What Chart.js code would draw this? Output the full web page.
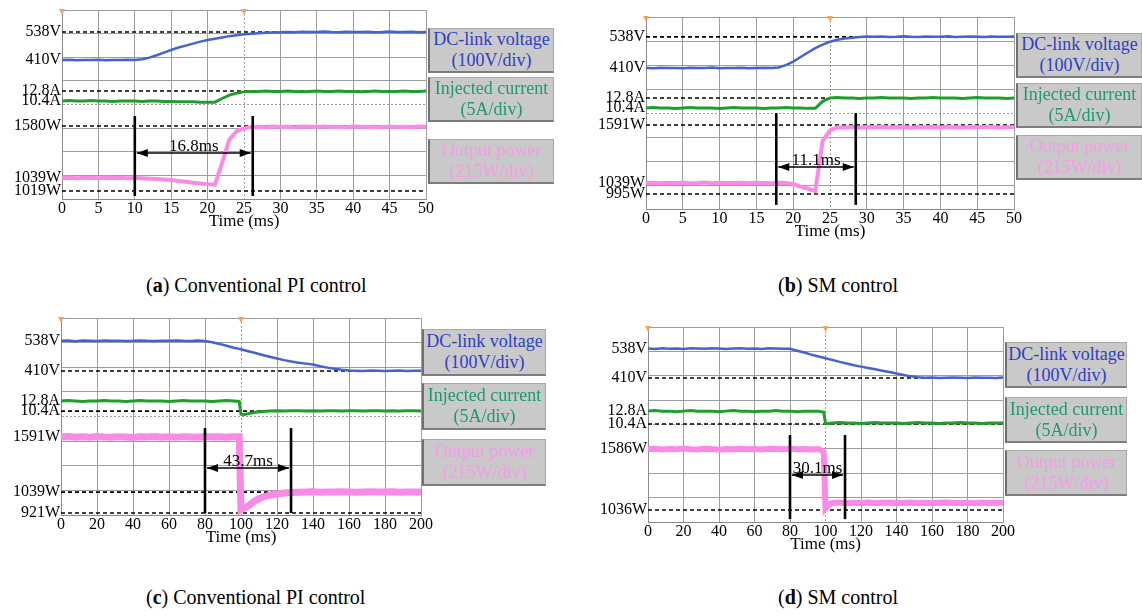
<!DOCTYPE html>
<html>
<head>
<meta charset="utf-8">
<script src="https://cdn.jsdelivr.net/npm/chart.js@4.4.1/dist/chart.umd.min.js"></script>
<style>
  body { margin: 0; background: #fff; font-family: "Liberation Serif", serif; }
  #page { position: relative; width: 1142px; height: 616px; overflow: hidden; }
  canvas { position: absolute; }
  .box {
    position: absolute; box-sizing: border-box; background: #c9c9c9;
    border: 1px solid #a9a9a9; border-left: 2px solid #707070; border-bottom: 2px solid #7c7c7c;
    display: flex; flex-direction: column; justify-content: center; align-items: center;
    font-size: 18px; line-height: 21px; white-space: nowrap;
  }
  .cap { position: absolute; font-size: 20px; line-height: 24px; white-space: nowrap; }
</style>
</head>
<body>
<div id="page">
  <canvas id="chartA" width="445" height="234" style="left:0;top:0"></canvas>
  <canvas id="chartB" width="450" height="244" style="left:580px;top:0"></canvas>
  <canvas id="chartC" width="440" height="250" style="left:0;top:300px"></canvas>
  <canvas id="chartD" width="440" height="257" style="left:580px;top:300px"></canvas>
</div>
<script>
// --- scope readings (time in ms, DC-link V, injected A, output W) ---
const timeAB = [0,1,2,3,4,5,6,7,8,9,10,11,12,13,14,15,16,17,18,19,20,21,22,23,24,25,
  26,27,28,29,30,31,32,33,34,35,36,37,38,39,40,41,42,43,44,45,46,47,48,49,50];

const dcLinkA = [410,411,409,410,410,411,409,410,410,411,410,
  414,421,432,444,456,467,476,485,494,501,507,513,519,523,527,530,532,534,536,537,
  538,537,539,538,538,540,538,537,539,538,538,539,537,538,540,538,538,539,537,538];
const currentA = [10.4,10.5,10.4,10.4,10.5,10.4,10.4,10.3,10.4,10.4,10.4,10.3,10.4,10.4,10.3,
  10.3,10.2,10.2,10.2,10.1,10.1,10.1,
  11.0,11.8,12.3,12.6,12.7,
  12.7,12.8,12.7,12.7,12.8,12.7,12.6,12.7,12.8,12.7,12.7,12.8,12.7,12.7,12.6,12.7,12.8,12.7,12.7,12.7,12.8,12.7,12.7,12.8];
const powerA = [1039,1042,1036,1038,1041,1037,1040,1038,1041,1037,1038,
  1035,1032,1028,1022,1017,1008,999,990,982,975,969,
  1200,1440,1525,1555,1568,
  1572,1568,1575,1570,1573,1567,1574,1571,1569,1575,1570,1572,1568,1574,1571,1570,1573,1568,1575,1570,1572,1569,1574,1571];

const dcLinkB = [410,409,411,410,410,409,411,410,410,412,409,410,410,411,409,410,411,410,
  412,422,436,455,474,492,506,518,526,531,535,538,540,
  539,540,538,539,541,539,538,540,539,539,541,538,539,540,539,538,540,539,539,540];
const currentB = [10.4,10.5,10.4,10.4,10.3,10.4,10.5,10.4,10.4,10.4,10.3,10.4,10.5,10.4,10.4,10.4,10.3,10.4,10.4,10.5,10.4,10.4,10.3,10.3,
  12.0,
  12.8,12.9,12.8,12.8,12.7,12.8,12.8,12.9,12.8,12.8,12.8,12.7,12.8,12.8,12.9,12.8,12.8,12.8,12.7,12.8,12.9,12.8,12.8,12.8,12.7,12.8];
const powerB = [1040,1043,1037,1041,1039,1042,1038,1040,1044,1037,1041,1039,1040,1043,1038,1041,1040,1037,1042,1040,
  1030,1005,985,962,1440,1540,1570,
  1568,1573,1566,1571,1569,1574,1567,1570,1572,1566,1573,1569,1571,1568,1574,1570,1567,1572,1569,1571,1573,1568,1570,1572];

const timeCD = [0,4,8,12,16,20,24,28,32,36,40,44,48,52,56,60,64,68,72,76,80,84,88,92,96,
  99,100,102,
  104,108,112,116,120,124,128,132,136,140,144,148,152,156,160,164,168,172,176,180,184,188,192,196,200];

const dcLinkC = [538,540,536,539,538,537,540,538,539,537,538,540,538,537,539,538,540,538,537,539,
  537,532,525,517,509,
  504,502,498,
  494,486,478,470,463,456,450,445,441,437,430,424,419,415,412,
  411,410,412,411,410,411,412,410,411,411];
const currentC = [12.8,12.9,12.8,12.7,12.8,12.8,12.9,12.8,12.8,12.7,12.8,12.9,12.8,12.8,12.8,12.7,12.8,12.9,12.8,12.8,12.8,12.7,12.8,12.9,12.8,
  12.7,9.7,9.6,
  9.8,10.1,10.3,10.4,
  10.5,10.4,10.5,10.5,10.4,10.5,10.4,10.5,10.5,10.4,10.5,10.5,10.4,10.5,10.5,10.4,10.5,10.4,10.5,10.5,10.4];
const powerC = [1591,1596,1587,1593,1589,1595,1590,1588,1594,1591,1586,1593,1590,1596,1589,1592,1588,1594,1591,1589,1595,1590,1593,1588,1592,
  1592,862,880,
  900,955,990,1008,1020,1030,1035,1038,
  1040,1043,1038,1041,1039,1042,1040,1037,1041,1043,1039,1040,1042,1038,1041,1040,1039];

const dcLinkD = [540,538,541,539,540,538,541,540,539,541,540,538,540,541,539,540,538,541,540,539,
  539,530,522,513,505,
  499,497,493,
  489,481,474,466,460,454,448,442,436,430,423,417,413,
  411,412,410,411,412,411,410,412,411,411,410,412];
const currentD = [12.8,12.9,12.8,12.8,12.7,12.8,12.9,12.8,12.8,12.8,12.7,12.8,12.9,12.8,12.8,12.7,12.8,12.8,12.9,12.8,12.8,12.7,12.8,12.8,12.8,
  12.6,10.5,10.5,
  10.6,10.7,10.6,10.6,10.5,10.6,10.7,10.6,10.6,10.6,10.5,10.6,10.7,10.6,10.6,10.5,10.6,10.6,10.7,10.6,10.6,10.5,10.6,10.6,10.6];
const powerD = [1586,1590,1582,1588,1584,1591,1585,1583,1589,1586,1581,1588,1585,1590,1584,1587,1583,1589,1586,1584,1590,1585,1588,1583,1587,
  1560,1050,1085,
  1100,1104,1097,1102,1099,1105,1098,1101,1103,1097,1100,1104,1099,1102,1098,1101,1105,1099,1100,1103,1097,1102,1100,1099,1101];

// level marks on the left edge (levels in screen divisions, 0 = bottom)
const refTextA = ['538V','410V','12.8A','10.4A','1580W','1039W','1019W'];
const refDivA  = [7.07, 5.88, 4.57, 4.15, 3.09, 0.89, 0.34];
const refDashA = [1, 0, 1, 0, 1, 0, 1];
const refTextB = ['538V','410V','12.8A','10.4A','1591W','1039W','995W'];
const refDivB  = [7.17, 5.875, 4.625, 4.21, 3.5, 1.08, 0.625];
const refDashB = [1, 0, 1, 0, 1, 0, 1];
const refTextC = ['538V','410V','12.8A','10.4A','1591W','1039W','921W'];
const refDivC  = [7.07, 5.85, 4.63, 4.22, 3.17, 0.93, 0.08];
const refDashC = [0, 1, 0, 1, 0, 1, 1];
const refTextD = ['538V','410V','12.8A','10.4A','1586W','1036W'];
const refDivD  = [7.10, 5.91, 4.55, 4.02, 2.99, 0.49];
const refDashD = [0, 1, 0, 1, 0, 1];

// settling-time cursors (ms)
const cursorsA = [10, 26.2];   const spanA = '16.8ms';
const cursorsB = [17.7, 28.5]; const spanB = '11.1ms';
const cursorsC = [80, 127.8];  const spanC = '43.7ms';
const cursorsD = [80, 111];    const spanD = '30.1ms';

const legendNames  = ['DC-link voltage', 'Injected current', 'Output power'];
const legendScales = ['(100V/div)', '(5A/div)', '(215W/div)'];
const legendColors = ['#2f3fc4', '#1f9a6c', '#f79be9'];

const captions = [
  ['a', 'Conventional PI control', 146, 273],
  ['b', 'SM control', 778, 273],
  ['c', 'Conventional PI control', 146, 585],
  ['d', 'SM control', 778, 585]
];

const SERIF = '"Liberation Serif", "Times New Roman", serif';

// dashed level lines, labels, cursors
const scopeMarks = {
  id: 'scopeMarks',
  beforeDatasetsDraw(chart, args, o) {
    const { ctx, chartArea: a, scales: { x, y } } = chart;
    ctx.save();
    // trigger markers on the top edge
    ctx.fillStyle = '#f2a35c';
    [x.min, (x.min + x.max) / 2].forEach(v => {
      const px = x.getPixelForValue(v);
      ctx.beginPath();
      ctx.moveTo(px - 3, a.top - 1); ctx.lineTo(px + 3, a.top - 1); ctx.lineTo(px, a.top + 5);
      ctx.closePath(); ctx.fill();
    });
    ctx.strokeStyle = '#000';
    ctx.lineWidth = 1.6;
    ctx.setLineDash([4, 3]);
    o.levels.forEach((lv, i) => {
      if (!o.dashed[i]) return;
      const py = y.getPixelForValue(lv);
      ctx.beginPath(); ctx.moveTo(a.left, py); ctx.lineTo(a.right, py); ctx.stroke();
    });
    ctx.restore();
  },
  afterDatasetsDraw(chart, args, o) {
    const { ctx, chartArea: a, scales: { x, y } } = chart;
    ctx.save();
    ctx.fillStyle = '#000';
    ctx.font = '16px ' + SERIF;
    ctx.textAlign = 'right';
    ctx.textBaseline = 'middle';
    o.texts.forEach((t, i) => ctx.fillText(t, a.left - 1, y.getPixelForValue(o.levels[i])));

    const x1 = x.getPixelForValue(o.cursors[0]);
    const x2 = x.getPixelForValue(o.cursors[1]);
    const yt = y.getPixelForValue(o.top);
    const yb = y.getPixelForValue(o.bottom);
    const ya = y.getPixelForValue(o.arrow);
    ctx.strokeStyle = '#000';
    ctx.lineWidth = 2.6;
    [x1, x2].forEach(px => {
      ctx.beginPath(); ctx.moveTo(px, yt); ctx.lineTo(px, yb); ctx.stroke();
    });
    ctx.lineWidth = 1.4;
    ctx.beginPath(); ctx.moveTo(x1 + 2, ya); ctx.lineTo(x2 - 2, ya); ctx.stroke();
    ctx.beginPath();
    ctx.moveTo(x1 + 2, ya); ctx.lineTo(x1 + 13, ya - 4); ctx.lineTo(x1 + 13, ya + 4); ctx.closePath();
    ctx.moveTo(x2 - 2, ya); ctx.lineTo(x2 - 13, ya - 4); ctx.lineTo(x2 - 13, ya + 4); ctx.closePath();
    ctx.fill();
    ctx.font = '17px ' + SERIF;
    ctx.textAlign = 'center';
    ctx.textBaseline = 'alphabetic';
    ctx.fillText(o.span, (x1 + x2) / 2, ya - 2);
    ctx.restore();
  }
};

function trace(time, vals, axis, color, width) {
  return {
    data: time.map((t, i) => ({ x: t, y: vals[i] })),
    yAxisID: axis,
    borderColor: color,
    borderWidth: width,
    pointRadius: 0,
    tension: 0,
    fill: false
  };
}

function scopeChart(id, c) {
  const mid = c.xMax / 2;
  return new Chart(document.getElementById(id), {
    type: 'line',
    data: {
      datasets: [
        trace(c.time, c.power, 'yP', '#f98ae6', c.pw),
        trace(c.time, c.current, 'yA', '#1f9e2d', 3),
        trace(c.time, c.voltage, 'yV', '#4862cc', 2.5)
      ]
    },
    options: {
      responsive: false,
      animation: false,
      devicePixelRatio: 1,
      layout: { padding: c.pad },
      plugins: {
        legend: { display: false },
        tooltip: { enabled: false },
        scopeMarks: c.marks
      },
      scales: {
        x: {
          type: 'linear', min: 0, max: c.xMax,
          afterFit: s => { s.height = 35; },
          ticks: { stepSize: c.xStep, padding: 0, color: '#000', maxRotation: 0,
                   font: { family: SERIF, size: 16 } },
          grid: { color: '#9d9d9d', drawTicks: false },
          border: { color: '#8a8a8a', dash: ctx => (ctx.tick && ctx.tick.value === mid) ? [2, 2] : [] },
          title: { display: true, text: 'Time (ms)', color: '#000',
                   font: { family: SERIF, size: 17 }, padding: { top: 0, bottom: 2 } }
        },
        y: {
          min: 0, max: 8,
          ticks: { display: false, stepSize: 1 },
          grid: { color: '#9d9d9d', drawTicks: false },
          border: { color: '#8a8a8a', dash: ctx => (ctx.tick && ctx.tick.value === 4) ? [2, 2] : [] }
        },
        yV: { display: false, min: c.vRange[0], max: c.vRange[1] },
        yA: { display: false, min: c.aRange[0], max: c.aRange[1] },
        yP: { display: false, min: c.pRange[0], max: c.pRange[1] }
      }
    },
    plugins: [scopeMarks]
  });
}

scopeChart('chartA', {
  time: timeAB, voltage: dcLinkA, current: currentA, power: powerA, pw: 4,
  xMax: 50, xStep: 5, pad: { left: 62, top: 10, right: 19, bottom: 0 },
  vRange: [-222.5, 638.0], aRange: [-13.31, 32.40], pRange: [820.1, 2787.4],
  marks: { texts: refTextA, levels: refDivA, dashed: refDashA, cursors: cursorsA, span: spanA,
           top: 3.51, bottom: 0.13, arrow: 1.95 }
});
scopeChart('chartB', {
  time: timeAB, voltage: dcLinkB, current: currentB, power: powerB, pw: 4,
  xMax: 50, xStep: 5, pad: { left: 66, top: 17, right: 16, bottom: 0 },
  vRange: [-170.7, 620.0], aRange: [-13.95, 32.32], pRange: [792.7, 2617.5],
  marks: { texts: refTextB, levels: refDivB, dashed: refDashB, cursors: cursorsB, span: spanB,
           top: 4.0, bottom: 0.17, arrow: 1.75 }
});
scopeChart('chartC', {
  time: timeCD, voltage: dcLinkC, current: currentC, power: powerC, pw: 7,
  xMax: 200, xStep: 20, pad: { left: 61, top: 18, right: 19, bottom: 0 },
  vRange: [-203.9, 635.4], aRange: [-14.30, 32.53], pRange: [809.8, 2781.2],
  marks: { texts: refTextC, levels: refDivC, dashed: refDashC, cursors: cursorsC, span: spanC,
           top: 3.53, bottom: 0.08, arrow: 1.91 }
});
scopeChart('chartD', {
  time: timeCD, voltage: dcLinkD, current: currentD, power: powerD, pw: 6,
  xMax: 200, xStep: 20, pad: { left: 68, top: 27, right: 17, bottom: 0 },
  vRange: [-225.7, 634.8], aRange: [-7.80, 28.43], pRange: [928.2, 2688.2],
  marks: { texts: refTextD, levels: refDivD, dashed: refDashD, cursors: cursorsD, span: spanD,
           top: 3.57, bottom: 0.12, arrow: 1.93 }
});

// --- legend boxes and captions ---
const boxLayout = [
  { left: 428, width: 126, tops: [28, 77, 139], h: 45 },
  { left: 1016, width: 126, tops: [33, 83, 135], h: 45 },
  { left: 422, width: 124, tops: [329, 383, 439], h: 47 },
  { left: 1005, width: 122, tops: [342, 397, 450], h: 46 }
];
const page = document.getElementById('page');
boxLayout.forEach(b => {
  b.tops.forEach((top, i) => {
    const el = document.createElement('div');
    el.className = 'box';
    el.style.cssText = `left:${b.left}px;top:${top}px;width:${b.width}px;height:${b.h}px;color:${legendColors[i]}`;
    el.innerHTML = `<span>${legendNames[i]}</span><span>${legendScales[i]}</span>`;
    page.appendChild(el);
  });
});
captions.forEach(([tag, text, left, top]) => {
  const el = document.createElement('div');
  el.className = 'cap';
  el.style.left = left + 'px';
  el.style.top = top + 'px';
  el.innerHTML = `(<b>${tag}</b>) ${text}`;
  page.appendChild(el);
});
</script>
</body>
</html>
